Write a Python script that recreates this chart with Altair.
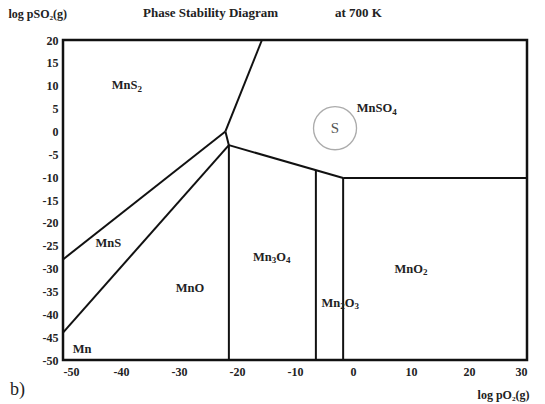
import altair as alt
import pandas as pd

# boundary segments (log pO2, log pSO2)
seg_x1 = [-50, -22.0, -50, -22.0, -21.4, -1.7, -21.4, -6.4, -1.7]
seg_y1 = [-28, 0.0, -44, 0.0, -3.0, -10.2, -3.0, -8.5, -10.2]
seg_x2 = [-22.0, -15.7, -21.4, -21.4, -1.7, 30, -21.4, -6.4, -1.7]
seg_y2 = [0.0, 20, -3.0, -3.0, -10.2, -10.2, -50, -50, -50]

labels = ["MnS₂", "MnSO₄", "MnS", "MnO", "Mn₃O₄", "MnO₂", "Mn₂O₃", "Mn"]
label_x = [-39, 4.1, -42.2, -28.1, -14, 10, -2.2, -46.7]
label_y = [10.1, 5.1, -24.5, -34.2, -27.4, -30, -37.5, -47.6]

x_ticks = list(range(-50, 31, 10))
y_ticks = list(range(-50, 21, 5))

circle_x = [-3.1]
circle_y = [0.7]

segs = pd.DataFrame({"x": seg_x1, "y": seg_y1, "x2": seg_x2, "y2": seg_y2})
circ = pd.DataFrame({"x": circle_x, "y": circle_y, "t": ["S"]})

serif = "Liberation Serif"
xs = alt.Scale(domain=[-50, 30], nice=False, zero=False)
ys = alt.Scale(domain=[-50, 20], nice=False, zero=False)

lexpr = "toString(datum.value)"
xax = alt.Axis(values=x_ticks, ticks=False, grid=False, domain=False,
               labelFont=serif, labelFontWeight="bold", labelFontSize=12, labelPadding=6,
               labelColor="#222", labelExpr=lexpr, labelOverlap=False,
               title="log pO₂(g)", titleFont=serif, titleFontWeight="bold",
               titleFontSize=12, titleColor="#222", titleX=466, titleY=38, titleAlign="right",
               titleBaseline="alphabetic")
yax = alt.Axis(values=y_ticks, ticks=False, grid=False, domain=False,
               labelFont=serif, labelFontWeight="bold", labelFontSize=12, labelPadding=5,
               labelColor="#222", labelExpr=lexpr, labelOverlap=False,
               title="log pSO₂(g)", titleFont=serif, titleFontWeight="bold",
               titleFontSize=12, titleColor="#222", titleAngle=0, titleX=-55, titleY=-23,
               titleAlign="left", titleBaseline="alphabetic")

X = alt.X("x:Q", scale=xs, axis=xax)
Y = alt.Y("y:Q", scale=ys, axis=yax)

lines = alt.Chart(segs).mark_rule(color="#111", strokeWidth=2).encode(
    x=X, y=Y, x2="x2:Q", y2="y2:Q")

# label layout: normal glyphs + real-size subscripts, approximate Times-Bold advances
SUB = {"₀": "0", "₁": "1", "₂": "2", "₃": "3", "₄": "4"}
WID = {"M": 0.944, "n": 0.556, "S": 0.556, "O": 0.778}
BASE_FS, SUB_FS = 12.5, 9.0
label_layers = []
for lab, lx, ly in zip(labels, label_x, label_y):
    pieces = []
    run = ""
    for ch in lab:
        if ch in SUB:
            if run:
                pieces.append((run, BASE_FS, sum(WID.get(c, 0.6) for c in run) * BASE_FS, 0))
                run = ""
            pieces.append((SUB[ch], SUB_FS, 0.5 * SUB_FS, 3.5))
        else:
            run += ch
    if run:
        pieces.append((run, BASE_FS, sum(WID.get(c, 0.6) for c in run) * BASE_FS, 0))
    total = sum(p[2] for p in pieces)
    cur = -total / 2
    for t, fs, w, dy in pieces:
        d = pd.DataFrame({"x": [lx], "y": [ly], "t": [t]})
        label_layers.append(
            alt.Chart(d).mark_text(font=serif, fontWeight="bold", color="#222", align="left",
                                   baseline="middle", fontSize=fs, dx=round(cur, 2), dy=dy)
            .encode(x=X, y=Y, text="t:N"))
        cur += w

ring = alt.Chart(circ).mark_point(shape="circle", size=1850, color="#888", strokeWidth=1.3,
                                  filled=False).encode(x=X, y=Y)
stext = alt.Chart(circ).mark_text(font=serif, fontSize=15, color="#555").encode(
    x=X, y=Y, text="t:N")

title1 = alt.Chart(pd.DataFrame({"t": ["Phase Stability Diagram"]})).mark_text(
    font=serif, fontWeight="bold", fontSize=13, color="#222", align="left",
    baseline="alphabetic").encode(x=alt.value(80), y=alt.value(-23), text="t:N")
title2 = alt.Chart(pd.DataFrame({"t": ["at  700 K"]})).mark_text(
    font=serif, fontWeight="bold", fontSize=13, color="#222", align="left",
    baseline="alphabetic").encode(x=alt.value(272), y=alt.value(-23), text="t:N")
blab = alt.Chart(pd.DataFrame({"t": ["b)"]})).mark_text(
    font=serif, fontSize=18, color="#222", align="left",
    baseline="alphabetic").encode(x=alt.value(-53), y=alt.value(355), text="t:N")

chart = alt.layer(lines, *label_layers, ring, stext, title1, title2, blab).properties(
    width=464, height=320,
    autosize=alt.AutoSizeParams(type="none"),
    padding={"left": 63, "top": 40, "right": 18, "bottom": 44},
    background="white",
).configure_view(stroke="#111", strokeWidth=2.5).configure_axis(labelOverlap=False)

chart.save("out.html", embed_options={"renderer": "svg", "actions": False})
